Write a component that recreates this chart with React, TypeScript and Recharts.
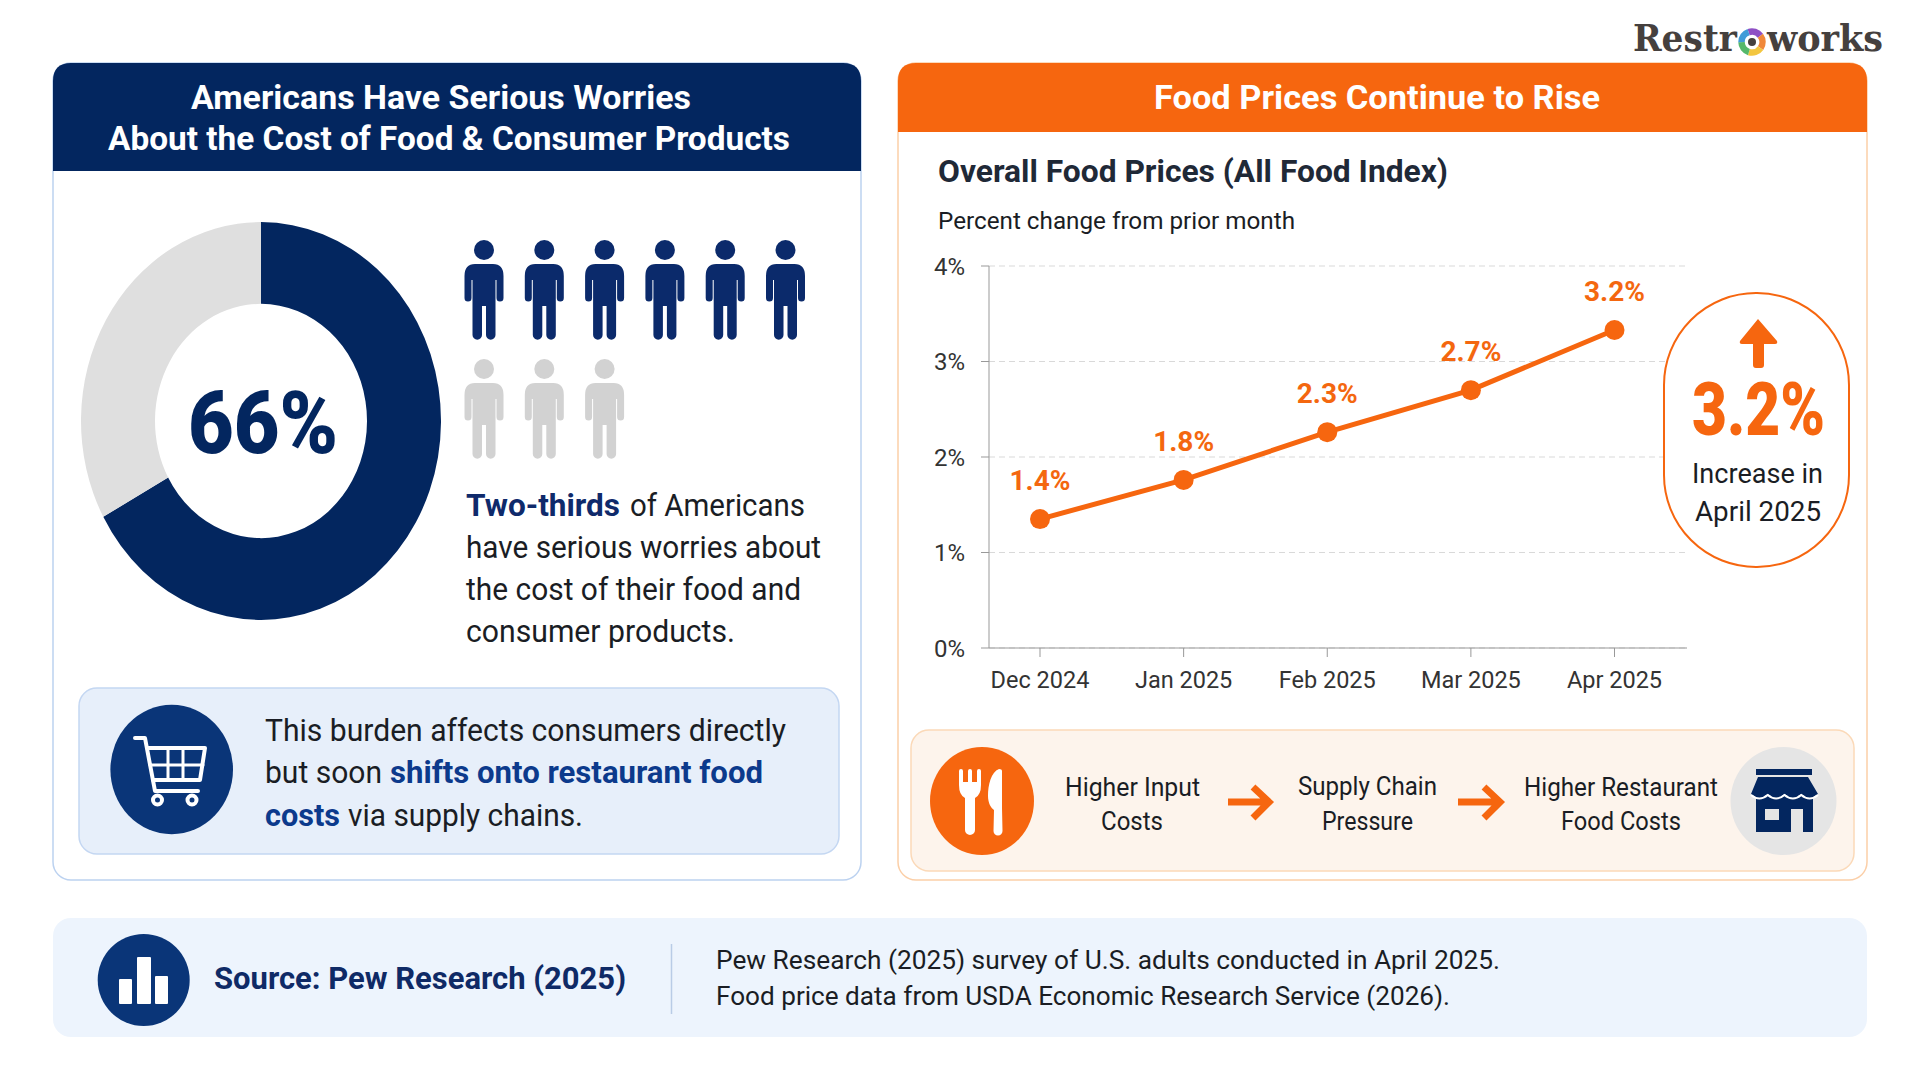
import React from 'react'
import { Cell, CartesianGrid, LabelList, Line, LineChart, Pie, PieChart, XAxis, YAxis } from 'recharts'

const NAVY = '#03265F'
const BLUE = '#0A3578'
const ORANGE = '#F6660F'
const INK = '#1A1D24'

// donut
const worrySlices = ['Serious worries', 'Other']
const worryValues = [67, 33]
const worryColors = [NAVY, '#DFDFDF']
const peopleWorried = 6
const peopleOther = 3

// line chart
const months = ['Dec 2024', 'Jan 2025', 'Feb 2025', 'Mar 2025', 'Apr 2025']
const plotted = [1.35, 1.76, 2.26, 2.7, 3.33]
const printedLabels = ['1.4%', '1.8%', '2.3%', '2.7%', '3.2%']
const yTicks = [0, 1, 2, 3, 4]

const ringColors = ['#8E4FC4', '#F0883A', '#F3C63F', '#55B86A', '#3F9BD8']

const pieData = worrySlices.map((name, i) => ({ name, value: worryValues[i] }))
const lineData = months.map((month, i) => ({ month, change: plotted[i], label: printedLabels[i] }))

type TProps = { x: number; y: number; w: number; size: number; weight?: number; fill?: string; font?: string; children: string }

// every label is fitted to the width measured on the reference
function T({ x, y, w, size, weight = 400, fill = INK, font, children }: TProps) {
  return (
    <text x={x} y={y} fontSize={size} fontWeight={weight} fill={fill} fontFamily={font} textLength={w} lengthAdjust="spacingAndGlyphs">
      {children}
    </text>
  )
}

function Person({ x, y, fill }: { x: number; y: number; fill: string }) {
  return (
    <g transform={`translate(${x} ${y})`} fill={fill}>
      <circle cx={0} cy={10} r={10} />
      <path d="M-9 24 H9 Q19.5 24 19.5 36 V58 A3.5 3.5 0 0 1 12.5 58 V40 L11.5 40 V95 A4.75 4.75 0 0 1 2 95 V66 H-2 V95 A4.75 4.75 0 0 1 -11.5 95 V40 H-12.5 V58 A3.5 3.5 0 0 1 -19.5 58 V36 Q-19.5 24 -9 24 Z" />
    </g>
  )
}

function ringArc(i: number, count: number) {
  const cx = 1752
  const cy = 42
  const r = 10.5
  const a0 = (i / count) * Math.PI * 2 - 1.9
  const a1 = ((i + 1) / count) * Math.PI * 2 - 1.9
  return `M${cx + r * Math.cos(a0)} ${cy + r * Math.sin(a0)} A${r} ${r} 0 0 1 ${cx + r * Math.cos(a1)} ${cy + r * Math.sin(a1)}`
}

function Panels() {
  return (
    <svg width={1920} height={1080} style={{ position: 'absolute', left: 0, top: 0 }}>
      <rect x={53} y={63} width={808} height={817} rx={18} fill="#fff" stroke="#BCD2F0" strokeWidth={1.5} />
      <path d="M53 171 V81 Q53 63 71 63 H843 Q861 63 861 81 V171 Z" fill={NAVY} />
      <rect x={898} y={63} width={969} height={817} rx={18} fill="#fff" stroke="#FBCFA8" strokeWidth={1.5} />
      <path d="M898 132 V81 Q898 63 916 63 H1849 Q1867 63 1867 81 V132 Z" fill={ORANGE} />
      <rect x={79} y={688} width={760} height={166} rx={18} fill="#E7EFFA" stroke="#C4D7F2" strokeWidth={1.5} />
      <rect x={911} y={730} width={943} height={141} rx={18} fill="#FDF4EC" stroke="#FBD9B8" strokeWidth={1.5} />
      <rect x={53} y={918} width={1814} height={119} rx={18} fill="#EDF4FD" />
      <line x1={671.5} x2={671.5} y1={944} y2={1014} stroke="#B9CCE6" strokeWidth={1.5} />
    </svg>
  )
}

function Overlay() {
  return (
    <svg width={1920} height={1080} style={{ position: 'absolute', left: 0, top: 0 }}>
      {/* logo */}
      <T x={1633} y={51} w={104} size={37} weight={700} fill="#45403E" font="'DejaVu Serif'">Restr</T>
      <T x={1767} y={51} w={116} size={37} weight={700} fill="#45403E" font="'DejaVu Serif'">works</T>
      {ringColors.map((c, i) => (
        <path key={c} d={ringArc(i, ringColors.length)} fill="none" stroke={c} strokeWidth={6.5} />
      ))}
      <circle cx={1752} cy={42} r={4} fill="#45403E" />

      {/* headers */}
      <T x={191} y={109} w={500} size={33} weight={700} fill="#fff">Americans Have Serious Worries</T>
      <T x={108} y={150} w={682} size={33} weight={700} fill="#fff">About the Cost of Food &amp; Consumer Products</T>
      <T x={1154} y={109} w={446} size={33} weight={700} fill="#fff">Food Prices Continue to Rise</T>

      {/* left panel */}
      <T x={188} y={453} w={150} size={88} weight={900} fill={NAVY}>66%</T>
      {Array.from({ length: peopleWorried }).map((_, i) => (
        <Person key={i} x={484 + i * 60.3} y={240} fill="#0B2A6B" />
      ))}
      {Array.from({ length: peopleOther }).map((_, i) => (
        <Person key={i} x={484 + i * 60.3} y={359} fill="#D2D2D2" />
      ))}
      <T x={466} y={516} w={154} size={31} weight={700} fill="#0F2A6B">Two-thirds</T>
      <T x={630} y={516} w={175} size={31}>of Americans</T>
      <T x={466} y={558} w={355} size={31}>have serious worries about</T>
      <T x={466} y={600} w={335} size={31}>the cost of their food and</T>
      <T x={466} y={642} w={269} size={31}>consumer products.</T>

      <ellipse cx={171.7} cy={769.5} rx={61.3} ry={64.7} fill={BLUE} />
      <g fill="none" stroke="#fff" strokeWidth={4} strokeLinecap="round" strokeLinejoin="round">
        <path d="M135 738 H145 L155 791 H198" />
        <path d="M148 748 H205 L200 780 H153" />
        <path d="M150 765 H203 M168 748 V780 M183 748 V780" strokeWidth={3} />
        <circle cx={157.5} cy={800} r={4.5} />
        <circle cx={192} cy={800} r={4.5} />
      </g>
      <T x={265} y={741} w={521} size={31}>This burden affects consumers directly</T>
      <T x={265} y={783} w={117} size={31}>but soon</T>
      <T x={390} y={783} w={373} size={31} weight={700} fill="#0C3A8C">shifts onto restaurant food</T>
      <T x={265} y={826} w={75} size={31} weight={700} fill="#0C3A8C">costs</T>
      <T x={348} y={826} w={235} size={31}>via supply chains.</T>

      {/* right panel */}
      <T x={938} y={182} w={510} size={32} weight={700} fill="#1F2937">Overall Food Prices (All Food Index)</T>
      <T x={938} y={229} w={357} size={24}>Percent change from prior month</T>

      <rect x={1664} y={293} width={185} height={274} rx={92} ry={92} fill="#fff" stroke={ORANGE} strokeWidth={2} />
      <path d="M1758 319 L1777 341 Q1778 344 1775 344 H1764 V365 Q1764 368 1761 368 H1756 Q1753 368 1753 365 V344 H1742 Q1739 344 1740 341 Z" fill={ORANGE} />
      <T x={1692} y={435} w={133} size={74} weight={900} fill={ORANGE}>3.2%</T>
      <T x={1692} y={483} w={131} size={28}>Increase in</T>
      <T x={1695} y={521} w={126} size={28}>April 2025</T>

      {/* flow strip */}
      <ellipse cx={982} cy={801} rx={52} ry={54} fill={ORANGE} />
      <path fill="#fff" d="M959 771 a2 2 0 0 1 4 0 V782 H968 V771 a2 2 0 0 1 4 0 V782 H977 V771 a2 2 0 0 1 4 0 V785 Q981 795 975 798 V830 a5 5 0 0 1 -10 0 V798 Q959 795 959 785 Z" />
      <path fill="#fff" d="M1002 771 Q1002 769 999 769 C991 772 988 785 988 796 C988 803 991 808 994 810 L993.5 831 a4.5 4.5 0 0 0 9 0 L1002 808 Z" />
      <T x={1065} y={796} w={135} size={25.5}>Higher Input</T>
      <T x={1101} y={830} w={62} size={25.5}>Costs</T>
      <T x={1298} y={795} w={139} size={25.5}>Supply Chain</T>
      <T x={1322} y={830} w={91} size={25.5}>Pressure</T>
      <T x={1524} y={796} w={194} size={25.5}>Higher Restaurant</T>
      <T x={1561} y={830} w={120} size={25.5}>Food Costs</T>
      <g fill="none" stroke={ORANGE} strokeWidth={7}>
        <path d="M1228 802 H1268 M1253 787 L1269 802 L1253 818" />
        <path d="M1458 802 H1499 M1484 787 L1500 802 L1484 818" />
      </g>
      <ellipse cx={1783.5} cy={801} rx={53} ry={54} fill="#E5E5E5" />
      <rect x={1756} y={769} width={56} height={6} fill={NAVY} />
      <rect x={1756} y={796} width={57} height={36} fill={NAVY} />
      <rect x={1765} y={809} width={14} height={11} fill="#E5E5E5" />
      <rect x={1791} y={809} width={12} height={23} fill="#E5E5E5" />
      <path d="M1758 777 H1808 L1818 794 q-8.4 7 -16.75 0 q-8.4 7 -16.75 0 q-8.4 7 -16.75 0 q-8.4 7 -16.75 0 Z" fill={NAVY} />
      <path d="M1751 795 q8.4 7 16.75 0 q8.4 7 16.75 0 q8.4 7 16.75 0 q8.4 7 16.75 0" fill="none" stroke="#fff" strokeWidth={2} />

      {/* source strip */}
      <circle cx={143.7} cy={980} r={46} fill={BLUE} />
      <rect x={119} y={979} width={13} height={25} rx={1} fill="#fff" />
      <rect x={137} y={957} width={14} height={47} rx={1} fill="#fff" />
      <rect x={155} y={976} width={13} height={28} rx={1} fill="#fff" />
      <T x={214} y={989} w={412} size={32} weight={700} fill="#0F2A66">Source: Pew Research (2025)</T>
      <T x={716} y={969} w={784} size={26}>Pew Research (2025) survey of U.S. adults conducted in April 2025.</T>
      <T x={716} y={1005} w={734} size={26}>Food price data from USDA Economic Research Service (2026).</T>
    </svg>
  )
}

export default function App() {
  return (
    <div style={{ position: 'absolute', left: 0, top: 0, width: 1920, height: 1080, background: '#fff', overflow: 'hidden', fontFamily: 'Roboto' }}>
      <Panels />

      {/* the donut is taller than wide in the reference */}
      <div style={{ position: 'absolute', left: 61, top: 221, width: 400, height: 400, transform: 'scaleY(1.105)' }}>
        <PieChart width={400} height={400} margin={{ top: 0, right: 0, bottom: 0, left: 0 }}>
          <Pie data={pieData} dataKey="value" nameKey="name" cx={200} cy={200} innerRadius={106} outerRadius={180} startAngle={90} endAngle={-270} stroke="none" isAnimationActive={false}>
            {pieData.map((d, i) => (
              <Cell key={d.name} fill={worryColors[i]} />
            ))}
          </Pie>
        </PieChart>
      </div>

      <div style={{ position: 'absolute', left: 900, top: 230, width: 800, height: 480 }}>
        <LineChart width={800} height={480} data={lineData} margin={{ top: 36, right: 13, bottom: 22, left: 0 }}>
          <CartesianGrid vertical={false} stroke="#D9D9D9" strokeDasharray="6 4" />
          <XAxis
            dataKey="month"
            padding={{ left: 51, right: 72.5 }}
            height={40}
            stroke="#999999"
            tick={{ fill: '#333333', fontSize: 23.5 }}
            tickSize={9}
            tickMargin={14}
            interval={0}
          />
          <YAxis
            domain={[0, 4]}
            ticks={yTicks}
            width={89}
            stroke="#999999"
            tick={{ fill: '#333333', fontSize: 24 }}
            tickSize={8}
            tickMargin={16}
            tickFormatter={(value) => `${value}%`}
          />
          <Line
            type="linear"
            dataKey="change"
            stroke={ORANGE}
            strokeWidth={5}
            dot={{ r: 10, fill: ORANGE, stroke: 'none' }}
            isAnimationActive={false}
          >
            <LabelList dataKey="label" position="top" offset={29} fill="#F4670F" fontSize={28} fontWeight={700} />
          </Line>
        </LineChart>
      </div>

      <Overlay />
    </div>
  )
}
